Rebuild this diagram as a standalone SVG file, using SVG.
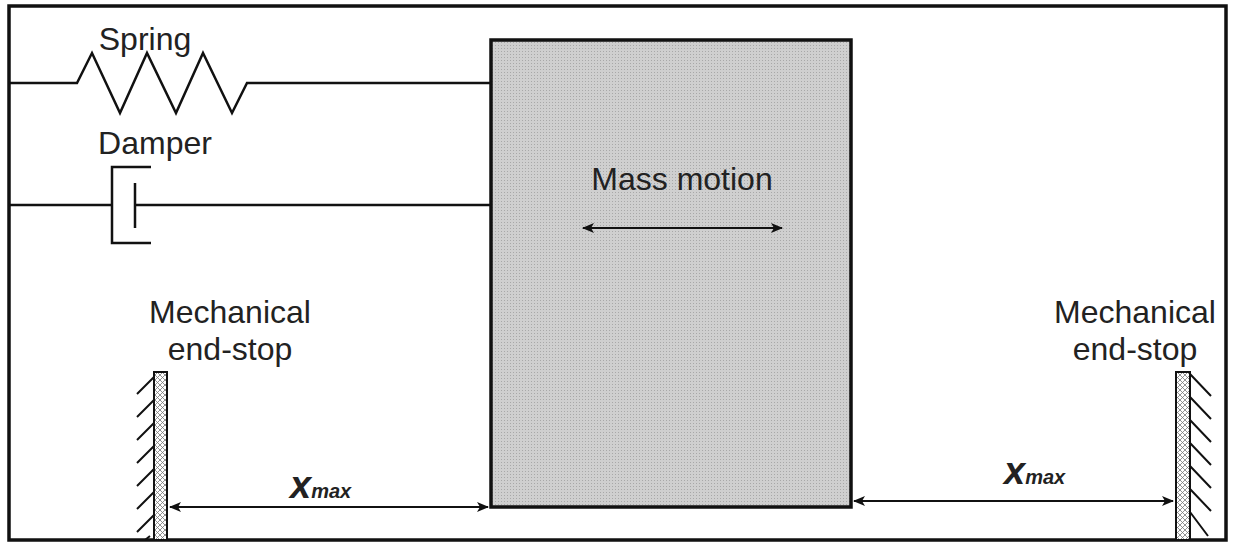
<svg xmlns="http://www.w3.org/2000/svg" width="1234" height="550" viewBox="0 0 1234 550">
<style>
text{font-family:"Liberation Sans",Arial,sans-serif;font-size:32px;fill:#222}
.ln{stroke:#111;stroke-width:2.5;fill:none}
.h{stroke:#111;stroke-width:2;fill:none}
.xm{font-style:italic;font-size:38px;font-weight:bold}
.sub{font-style:italic;font-size:20px;font-weight:bold}
</style>
<defs>
<pattern id="dots" width="3" height="3" patternUnits="userSpaceOnUse"><rect width="3" height="3" fill="#cfcfcf"/><rect width="1" height="1" fill="#a8a8a8"/></pattern>
<pattern id="cross" width="5" height="5" patternUnits="userSpaceOnUse"><rect width="5" height="5" fill="#fff"/><path d="M0 0L5 5M5 0L0 5" stroke="#777" stroke-width="0.8"/></pattern>
<marker id="ah" markerWidth="12" markerHeight="10" refX="11" refY="5" orient="auto-start-reverse" markerUnits="userSpaceOnUse"><path d="M0 0L12 5L0 10L3 5Z" fill="#111"/></marker>
</defs>
<rect x="9" y="6" width="1217" height="534" fill="#fff" stroke="#111" stroke-width="3.5"/>
<g id="mass"><rect x="491" y="40" width="360" height="467" fill="url(#dots)" stroke="#111" stroke-width="3.5"/>
<text x="682" y="190" text-anchor="middle">Mass motion</text></g>
<g id="spring"><text x="145" y="50" text-anchor="middle">Spring</text>
<path class="ln" d="M9 83H77L92 53L120 113L147 53L176 113L203 53L232 113L247 83H491"/></g>
<g id="damper"><text x="155" y="154" text-anchor="middle">Damper</text>
<path class="ln" d="M151 167H112V243H151M9 205H112M135 183V228M135 205H491"/></g>
<g id="endstop-left"><text x="230" y="323" text-anchor="middle">Mechanical</text><text x="230" y="360" text-anchor="middle">end-stop</text>
<rect x="154" y="372" width="13" height="168" fill="url(#cross)" stroke="#111" stroke-width="2"/>
<path class="h" d="M154 377L137 394M154 400L137 417M154 423L137 440M154 446L137 463M154 469L137 486M154 492L137 509M154 515L137 532M150 536L145 540"/></g>
<g id="endstop-right"><text x="1135" y="323" text-anchor="middle">Mechanical</text><text x="1135" y="360" text-anchor="middle">end-stop</text>
<rect x="1176" y="372" width="14" height="168" fill="url(#cross)" stroke="#111" stroke-width="2"/>
<path class="h" d="M1190 374L1211 396M1190 397L1211 419M1190 420L1211 442M1190 443L1211 465M1190 466L1211 488M1190 489L1211 511M1190 512L1208 536"/></g>
<g id="connectors">
<line class="h" x1="583" y1="228" x2="782" y2="228" marker-start="url(#ah)" marker-end="url(#ah)"/>
<line class="h" x1="170" y1="507" x2="488" y2="507" marker-start="url(#ah)" marker-end="url(#ah)"/>
<line class="h" x1="854" y1="501" x2="1173" y2="501" marker-start="url(#ah)" marker-end="url(#ah)"/>
</g>
<g id="labels">
<text x="290" y="498"><tspan class="xm">x</tspan><tspan class="sub">max</tspan></text>
<text x="1004" y="484"><tspan class="xm">x</tspan><tspan class="sub">max</tspan></text>
</g>
</svg>
